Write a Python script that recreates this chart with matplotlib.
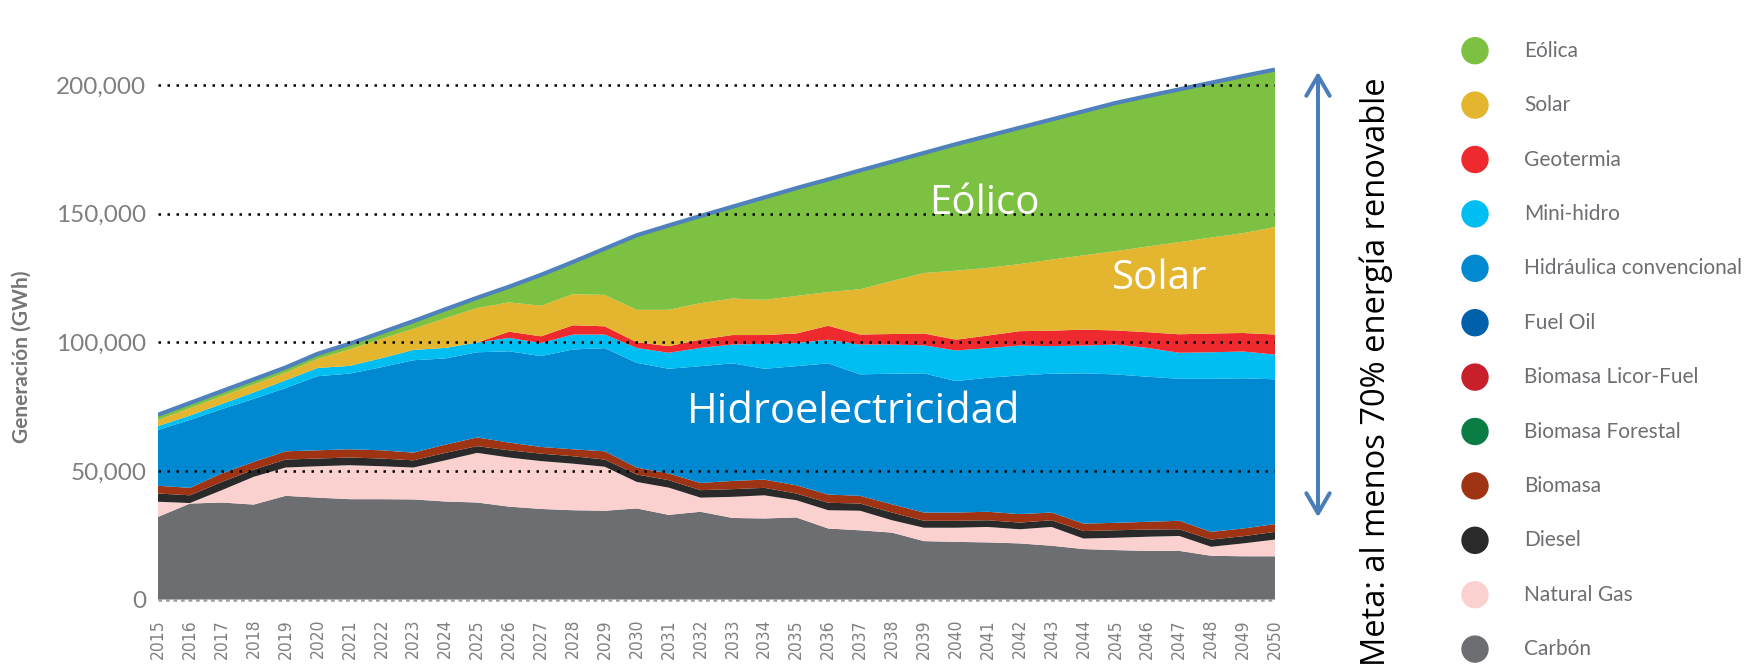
import matplotlib
matplotlib.use("Agg")
import matplotlib.pyplot as plt
import numpy as np
from matplotlib import font_manager
from matplotlib.patches import Circle, FancyArrowPatch, ArrowStyle
from matplotlib.ticker import FuncFormatter

# ---------------- data (GWh) ----------------
years = list(range(2015, 2051))

carbon = [32100, 37300, 37700, 36900, 40300, 39600, 39000, 39000, 38900, 38100, 37700, 36100,
          35200, 34700, 34500, 35400, 32900, 34100, 31700, 31500, 31900, 27600, 26900, 26000,
          22700, 22400, 22200, 21800, 20900, 19600, 19200, 18900, 18900, 17000, 16800, 16800]
natural_gas = [5900, 200, 4800, 10800, 11000, 12200, 13200, 12800, 12400, 16000, 19300, 19100,
               18600, 18100, 17100, 10300, 10600, 5500, 8200, 9000, 6700, 7100, 7600, 4800,
               5200, 5500, 6000, 5500, 7300, 4100, 4800, 5500, 5800, 3500, 5000, 6500]
diesel = [3200, 3000, 3200, 2800, 3100, 3000, 3000, 3000, 2800, 2900, 2600, 2800,
          2900, 2900, 2800, 2900, 2900, 2900, 3000, 2900, 2600, 2900, 2800, 3000,
          2700, 2700, 2600, 2600, 2600, 2900, 2900, 2800, 2600, 2800, 2800, 3000]
biomasa = [3000, 2900, 3300, 3000, 3200, 3200, 3200, 3200, 3000, 3200, 3400, 3000,
           2600, 2700, 3200, 2700, 2600, 2800, 3200, 3200, 3200, 3200, 3000, 3200,
           3200, 3200, 3300, 3300, 3000, 2900, 2900, 3000, 3300, 3000, 3000, 3000]
biomasa_forestal = [0, 0, 0, 0, 0, 0, 0, 0, 0, 0, 0, 0, 0, 0, 0, 0, 0, 0,
                    0, 0, 0, 0, 0, 0, 0, 0, 0, 0, 0, 0, 0, 0, 0, 0, 0, 0]
biomasa_licor = [0, 0, 0, 0, 0, 0, 0, 0, 0, 0, 0, 0, 0, 0, 0, 0, 0, 0,
                 0, 0, 0, 0, 0, 0, 0, 0, 0, 0, 0, 0, 0, 0, 0, 0, 0, 0]
fuel_oil = [0, 0, 0, 0, 0, 0, 0, 0, 0, 0, 0, 0, 0, 0, 0, 0, 0, 0,
            0, 0, 0, 0, 0, 0, 0, 0, 0, 0, 0, 0, 0, 0, 0, 0, 0, 0]
hidraulica = [21700, 26400, 25000, 24500, 24600, 28800, 29400, 32300, 35900, 33500, 33100, 35500,
              35300, 38800, 40100, 40700, 40700, 45400, 45700, 43100, 46300, 51000, 47200, 50800,
              54100, 51100, 52100, 53900, 54000, 58400, 57700, 56400, 55200, 59500, 58400, 56300]
mini_hidro = [1500, 1700, 2000, 2500, 3000, 3200, 3000, 3500, 4000, 4100, 3800, 5200,
              5100, 5800, 5300, 5800, 6200, 7100, 7300, 9700, 9000, 9200, 11600, 11300,
              10900, 11900, 11500, 11600, 10700, 10800, 11600, 11200, 10100, 10300, 10400, 9600]
geotermia = [0, 0, 0, 0, 0, 0, 0, 0, 0, 0, 0, 2400,
             2600, 3600, 3200, 2200, 2600, 3200, 3700, 3400, 3700, 5400, 3900, 4100,
             4600, 4200, 4900, 5600, 6000, 6200, 5500, 6100, 7200, 7300, 7200, 7800]
solar = [2400, 2900, 3000, 3100, 3000, 3500, 6400, 7500, 8200, 11500, 13400, 11400,
         11900, 12100, 12200, 12600, 14100, 14200, 14200, 13700, 14600, 13100, 17600, 20600,
         23500, 26800, 26300, 26100, 27600, 28900, 30800, 33300, 35800, 37300, 38800, 41800]
eolica = [2000, 2000, 2000, 2000, 2000, 2000, 2200, 2500, 3000, 3500, 4000, 6100,
          12000, 12500, 18000, 29000, 32800, 33900, 35700, 39800, 41900, 43800, 46200, 46400,
          46700, 49200, 51300, 53000, 54500, 56000, 57600, 58500, 59400, 60200, 61100, 61200]

# stacking order bottom -> top
stack_names = ["Carbón", "Natural Gas", "Diesel", "Biomasa", "Biomasa Forestal",
               "Biomasa Licor-Fuel", "Fuel Oil", "Hidráulica convencional", "Mini-hidro",
               "Geotermia", "Solar", "Eólica"]
stack_values = [carbon, natural_gas, diesel, biomasa, biomasa_forestal, biomasa_licor,
                fuel_oil, hidraulica, mini_hidro, geotermia, solar, eolica]
stack_colors = ["#6d6e71", "#fbd1d0", "#2a2a2a", "#9e3414", "#0a7d44", "#c8202a",
                "#0060aa", "#0089d0", "#00bdf2", "#ee2a2e", "#e4b52e", "#7dc142"]

y_ticks = [0, 50000, 100000, 150000, 200000]

# ---------------- fonts ----------------
names = {f.name for f in font_manager.fontManager.ttflist}
if "Liberation Sans Narrow" in names:
    year_font = dict(family="Liberation Sans Narrow")
else:
    year_font = dict(family="DejaVu Sans", stretch="condensed")

W, H = 1752, 671
fig = plt.figure(figsize=(W / 100, H / 100), dpi=100)
fig.patch.set_facecolor("white")

# axes placement in pixels
x0, x1 = 158, 1275
y_zero, px_per_k = 599.5, 2.5725
ymax = 215000
ax_top = y_zero - ymax / 1000 * px_per_k
ax = fig.add_axes([x0 / W, (H - y_zero) / H, (x1 - x0) / W, (y_zero - ax_top) / H])

ax.stackplot(years, *stack_values, colors=stack_colors, linewidth=0, zorder=1)
total = np.sum(np.array(stack_values), axis=0)
ax.plot(years, total, color="#4f81bd", lw=3.0, solid_capstyle="butt", zorder=3)

ax.set_xlim(years[0], years[-1])
ax.set_ylim(0, ymax)

# dotted gridlines on top of areas
for yv in y_ticks[1:]:
    ax.hlines(yv, years[0], years[-1], colors="black", linestyles=(0, (1, 2.6)),
              linewidth=1.8, zorder=4)
ax.hlines(0, years[0], years[-1], colors="#9a9a9a", linestyles=(0, (1.5, 1.5)),
          linewidth=1.8, zorder=4, clip_on=False)

for s in ax.spines.values():
    s.set_visible(False)
ax.set_yticks(y_ticks)
ax.yaxis.set_major_formatter(FuncFormatter(lambda v, p: f"{int(v):,}"))
ax.tick_params(axis="y", length=0, pad=8.5, labelsize=17.5, labelcolor="#7f7f7f")
for lab in ax.get_yticklabels():
    lab.set_family("Lato")
ax.set_xticks(years)
ax.set_xticklabels([str(y) for y in years], rotation=90, fontsize=12.5, color="#808080",
                   **year_font)
ax.tick_params(axis="x", length=0, pad=14)
ax.set_facecolor("none")

# in-plot labels
txt_kw = dict(color="white", family="Open Sans", fontsize=29, ha="center", va="center", zorder=6)
ax.text(2040.9, 153700, "Eólico", **txt_kw)
ax.text(2046.4, 124600, "Solar", **txt_kw)
ax.text(2036.8, 72900, "Hidroelectricidad", **{**txt_kw, "fontsize": 30})

# y label
fig.text(22 / W, 1 - 357 / H, "Generación (GWh)", rotation=90, ha="center", va="center",
         fontsize=15, fontweight="bold", color="#767676", family="Lato")

# overlay in pixel coordinates for arrow, note and legend
ov = fig.add_axes([0, 0, 1, 1])
ov.set_xlim(0, W)
ov.set_ylim(H, 0)
ov.axis("off")

arrow = FancyArrowPatch((1318, 69), (1318, 520),
                        arrowstyle=ArrowStyle("<->", head_length=0.72, head_width=0.42),
                        mutation_scale=20, lw=2.9, color="#4a7ebb")
ov.add_patch(arrow)
ov.text(1376, 372, "Meta: al menos 70% energía renovable", rotation=90, ha="center",
        va="center", fontsize=23.5, family="Open Sans", color="black")

legend_names = stack_names[::-1]
legend_colors = stack_colors[::-1]
for i, (nm, col) in enumerate(zip(legend_names, legend_colors)):
    yy = 50.7 + 54.4 * i
    ov.add_patch(Circle((1475, yy), 13, color=col))
    ov.text(1524, yy, nm, ha="left", va="center", fontsize=15, family="Lato", color="#6d6e71")

fig.savefig("out.png", dpi=100, facecolor="white")
